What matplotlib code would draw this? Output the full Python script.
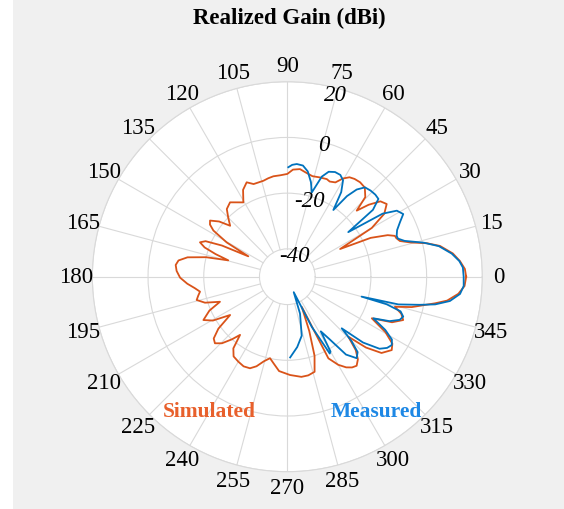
import matplotlib
matplotlib.use("Agg")
import matplotlib.pyplot as plt
import numpy as np
from matplotlib.patches import Rectangle

# simulated pattern, angle (deg) vs realized gain (dBi)
sim_theta = [0, 2.5, 5.2, 8, 11.4, 13.5, 15.5, 17.6, 19.5, 20.8, 22.5, 25, 27.7, 30,
             33, 36.2, 39, 41.5, 43.6, 45.6, 49, 52.4, 55.5, 58, 60.5, 63, 66, 68,
             72, 76, 80, 83.3, 87, 90, 94, 97.9, 101, 104, 107, 110, 113.3, 117,
             120.6, 124, 127.6, 131.8, 135, 138.3, 141, 144, 146, 148, 150.5,
             152.4, 154.5, 156.5, 158.5, 160.5, 162.5, 164.5, 166.5, 169, 171.5,
             174, 177, 180.5, 184, 187, 189.7, 192, 194.4, 197.5, 200.4, 203.5,
             207.3, 210.5, 213.8, 217, 220, 222.6, 225.5, 228.5, 230.9, 233, 236,
             240, 244, 247.8, 251, 254.5, 258, 261, 265, 271.6, 278, 282, 286,
             289, 292, 295.6, 296.7, 300, 303, 305.5, 307.9, 310.5, 313, 315.5,
             318, 321, 324.9, 327.5, 330.5, 333.8, 336.5, 339.5, 342, 344.4,
             346.3, 349.8, 351.5, 354.3, 357, 360]
sim_gain = [14.2, 13.8, 12.2, 10, 5.9, 1.5, -4, -7.6, -8.5, -8.7, -11, -17, -28.6,
            -15, -8.5, -5.8, -7, -11, -15.6, -10, -7.6, -7.2, -7.4, -7.9, -9.5,
            -12, -12.6, -12.2, -12.5, -12.8, -12, -11.1, -11.5, -13.1, -13.5, -13.6,
            -14, -14.5, -14.6, -14.6, -13.1, -15, -19, -17.8, -16.3, -17.4, -20,
            -22.5, -18.5, -15.7, -16.5, -18.7, -25, -34.2, -24, -18, -16.3, -18.5,
            -23, -28, -20, -13.5, -10.5, -9.7, -10.2, -11.5, -14, -16.5, -18.2,
            -17.3, -16.4, -19, -24.2, -19.5, -16.1, -19, -25.3, -19, -15.5, -14.7,
            -16.5, -20, -23.1, -17.8, -15.5, -14.8, -14.2, -14.5, -16, -18.5,
            -20.1, -18.5, -16, -14.7, -13.7, -13.8, -14.5, -20, -29, -38, -17.2,
            -13.5, -11.2, -10, -9.5, -11, -14, -19.3, -12, -6.5, -4.2, -5.3,
            -9.5, -16.2, -9, -5.6, -7, -9.9, -4, 3.9, 8, 11.7, 13.7, 14.2]

# measured pattern, angle (deg) vs realized gain (dBi)
meas_theta = [-88, -82, -76.3, -71, -67.5, -64, -61.5, -61.1, -60, -58.5, -56,
              -53, -49.6, -47, -45, -43.5, -41, -38, -35.5, -33.2, -31, -28.5,
              -25.8, -23.5, -21, -19, -17, -15.5, -15, -14, -12, -10.6, -8.5, -5.7,
              -3, 0, 3, 5.2, 8, 11.4, 14, 17, 19, 20.5, 23, 25.8, 28.4, 31.1,
              33.5, 36.2, 38, 40.5, 43, 46, 49, 51.5, 53.5, 55.4, 57.5, 60, 62.5,
              65.5, 68.5, 71, 73.8, 76, 79, 82, 85.2, 87.5, 89.5]
meas_gain = [-21, -24.5, -28.2, -36, -44, -30, -21, -18.5, -19, -27, -23, -15,
             -11.6, -13, -17.5, -23.1, -14, -8, -6, -5.2, -6.2, -10, -15.7, -10,
             -6.8, -6, -7.5, -13, -22.4, -8.9, -1.5, 4, 9, 12.3, 13.4, 13.3, 13.1,
             12, 9.6, 5.5, 0.5, -6, -8, -8.1, -7.2, -5.1, -2.7, -4.1, -9, -22.9,
             -11, -7, -6.8, -7, -7.5, -10, -14, -20.9, -14, -10, -8.8, -8.7, -9.5,
             -12, -18.5, -15, -11.5, -9.7, -9.4, -9.8, -10.7]

theta_ticks = list(range(0, 360, 15))
r_ticks = [-40, -20, 0, 20]
# where the radial tick labels sit (angle in deg, radius in dB)
r_label_theta = [71.8, 73.9, 74.4, 75.1]
r_label_r = [-42.1, -21.6, -0.8, 17.6]

sim_color = "#D95319"
meas_color = "#0072BD"
grid_color = "#d9d9d9"
serif = ["Liberation Serif", "DejaVu Serif"]

fig = plt.figure(figsize=(5.64, 5.10), dpi=100, facecolor="#f0f0f0")
fig.add_artist(Rectangle((0, 0), 13 / 564, 1, transform=fig.transFigure,
                         facecolor="white", edgecolor="none"))
ax = fig.add_axes([0.1637, 0.0731, 0.6915, 0.7647], projection="polar")
ax.set_facecolor("white")

ax.plot(np.deg2rad(sim_theta), sim_gain, color=sim_color, lw=1.3, zorder=3)
ax.plot(np.deg2rad(meas_theta), meas_gain, color=meas_color, lw=1.3, zorder=4)

ax.set_ylim(-50, 20)
ax.set_yticks(r_ticks)
ax.set_yticklabels([])
ax.yaxis.grid(True, color=grid_color, lw=0.8)
for t, r, v in zip(r_label_theta, r_label_r, r_ticks):
    ax.text(np.deg2rad(t), r, str(v), ha="center", va="center", family=serif,
            style="italic", fontsize=16.5, zorder=5)

# angle labels centred on a fixed radius just outside the plot circle
ax.set_xticks(np.deg2rad(theta_ticks))
ax.set_xticklabels([])
ax.xaxis.grid(False)
for t in theta_ticks:
    ax.plot([np.deg2rad(t)] * 2, [-40, 20], color=grid_color, lw=0.8, zorder=1)
    ax.text(np.deg2rad(t), 25.8, str(t), ha="center", va="center",
            family=serif, fontsize=16.5, clip_on=False)
ax.spines["polar"].set_color(grid_color)
ax.spines["polar"].set_linewidth(0.8)

fig.text(0.513, 0.963, "Realized Gain (dBi)", ha="center", va="center",
         family=serif, fontsize=16.5, fontweight="bold")
fig.text(0.372, 0.192, "Simulated", ha="center", va="center", family=serif,
         fontsize=15.5, fontweight="bold", color="#E8602C")
fig.text(0.668, 0.192, "Measured", ha="center", va="center", family=serif,
         fontsize=15.5, fontweight="bold", color="#1E88E5")

fig.savefig("out.png", dpi=100, facecolor=fig.get_facecolor())
